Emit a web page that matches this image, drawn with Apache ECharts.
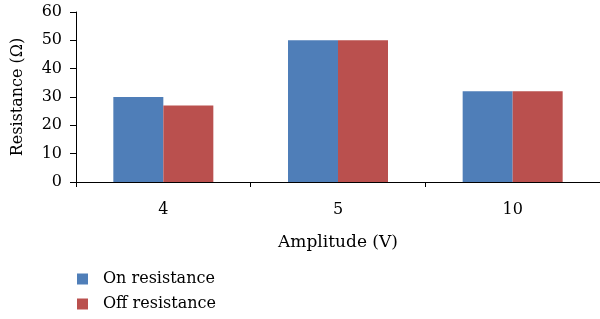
<!DOCTYPE html>
<html lang="en">
<head>
<meta charset="UTF-8">
<title>Resistance vs amplitude</title>
<script src="https://cdn.jsdelivr.net/npm/echarts@6/dist/echarts.min.js"></script>
<style>
  html, body { margin: 0; padding: 0; background: #fff; }
  #chart { width: 600px; height: 319px; }
</style>
</head>
<body>
<div id="chart"></div>
<script>
// data
var amplitudes = ['4', '5', '10'];
var onResistance = [30, 50, 32];
var offResistance = [27, 50, 32];
var yTicks = { min: 0, max: 60, step: 10 };

var font = 'DejaVu Serif';
var chart = echarts.init(document.getElementById('chart'), null, { renderer: 'canvas' });

var option = {
    animation: false,
    textStyle: { fontFamily: font, color: '#000' },
    grid: { left: 76, right: 0, top: 12, bottom: 137, containLabel: false },
    legend: {
        orient: 'vertical',
        left: 72,
        top: 266,
        itemWidth: 11,
        itemHeight: 11,
        itemGap: 9,
        icon: 'rect',
        textStyle: { fontFamily: font, fontSize: 16, color: '#000', padding: [0, 0, 0, 10] },
        data: ['On resistance', 'Off resistance']
    },
    xAxis: {
        type: 'category',
        data: amplitudes,
        name: 'Amplitude (V)',
        nameLocation: 'middle',
        nameGap: 52,
        nameTextStyle: { fontFamily: font, fontSize: 17, color: '#000' },
        axisLine: { lineStyle: { color: '#000', width: 1 } },
        axisTick: { show: true, length: 5, lineStyle: { color: '#000' } },
        axisLabel: { fontFamily: font, fontSize: 16, color: '#000', margin: 20 }
    },
    yAxis: {
        type: 'value',
        min: yTicks.min,
        max: yTicks.max,
        interval: yTicks.step,
        name: 'Resistance (\u03A9)',
        nameLocation: 'middle',
        nameGap: 50,
        nameTextStyle: { fontFamily: font, fontSize: 16, color: '#000' },
        axisLine: { show: true, lineStyle: { color: '#000', width: 1 } },
        axisTick: { show: true, length: 6, lineStyle: { color: '#000' } },
        axisLabel: { fontFamily: font, fontSize: 16, color: '#000', margin: 14 },
        splitLine: { show: false }
    },
    series: [
        {
            name: 'On resistance',
            type: 'bar',
            data: onResistance,
            barWidth: 50,
            barGap: '0%',
            itemStyle: { color: '#4F7EB8' }
        },
        {
            name: 'Off resistance',
            type: 'bar',
            data: offResistance,
            barWidth: 50,
            barGap: '0%',
            itemStyle: { color: '#BA504E' }
        }
    ]
};
chart.setOption(option);
</script>
</body>
</html>
